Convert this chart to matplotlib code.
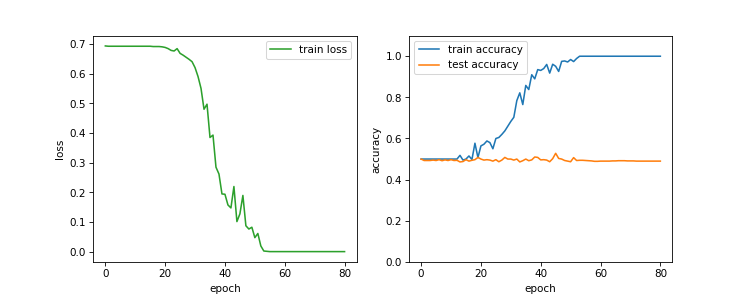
import matplotlib
matplotlib.use('Agg')
import matplotlib.pyplot as plt

epochs = list(range(81))

train_loss = [0.693, 0.692, 0.692, 0.692, 0.692, 0.692, 0.692, 0.692, 0.692, 0.692,
              0.692, 0.692, 0.692, 0.692, 0.692, 0.692, 0.691, 0.691, 0.691, 0.690,
              0.688, 0.684, 0.678, 0.676, 0.684, 0.668, 0.662, 0.655, 0.648, 0.640,
              0.620, 0.590, 0.550, 0.480, 0.497, 0.385, 0.393, 0.285, 0.262, 0.195,
              0.194, 0.158, 0.148, 0.220, 0.102, 0.128, 0.190, 0.088, 0.077, 0.083,
              0.048, 0.062, 0.020, 0.003, 0.002] + [0.001] * 26

train_acc = [0.5] * 13 + [0.518, 0.495, 0.500, 0.515, 0.498, 0.577, 0.507,
                          0.564, 0.572, 0.588, 0.580, 0.550, 0.600, 0.605, 0.620, 0.637, 0.660,
                          0.683, 0.703, 0.784, 0.822, 0.765, 0.858, 0.838, 0.910, 0.890, 0.935,
                          0.931, 0.940, 0.960, 0.918, 0.961, 0.951, 0.926, 0.975, 0.977, 0.972,
                          0.984, 0.974, 0.989] + [1.0] * 28

test_acc = [0.500, 0.493, 0.493, 0.493, 0.495, 0.493, 0.497, 0.492, 0.496, 0.493,
            0.497, 0.493, 0.494, 0.486, 0.488, 0.497, 0.490, 0.494, 0.497, 0.508,
            0.500, 0.495, 0.497, 0.495, 0.490, 0.497, 0.487, 0.495, 0.508, 0.500,
            0.500, 0.495, 0.500, 0.486, 0.492, 0.500, 0.492, 0.496, 0.510, 0.508,
            0.496, 0.497, 0.495, 0.487, 0.502, 0.528, 0.503, 0.500, 0.493, 0.490,
            0.487, 0.507, 0.493, 0.494, 0.494, 0.493, 0.492, 0.491, 0.489, 0.489,
            0.490, 0.490, 0.490, 0.490, 0.491, 0.491, 0.492, 0.492, 0.492, 0.491,
            0.491, 0.491, 0.490, 0.490, 0.490, 0.490, 0.490, 0.490, 0.490, 0.490,
            0.490]

fig = plt.figure(figsize=(9.96, 3.99), dpi=75)
plt.subplots_adjust(bottom=0.124, top=0.88)

plt.subplot(1, 2, 1)
plt.plot(epochs, train_loss, color='tab:green', label='train loss')
plt.xlabel('epoch')
plt.ylabel('loss')
plt.legend(loc='upper right')

plt.subplot(1, 2, 2)
plt.plot(epochs, train_acc, label='train accuracy')
plt.plot(epochs, test_acc, label='test accuracy')
plt.ylim(0, 1.1)
plt.xlabel('epoch')
plt.ylabel('accuracy')
plt.legend(loc='upper left')

plt.savefig('out.png', dpi=75)
